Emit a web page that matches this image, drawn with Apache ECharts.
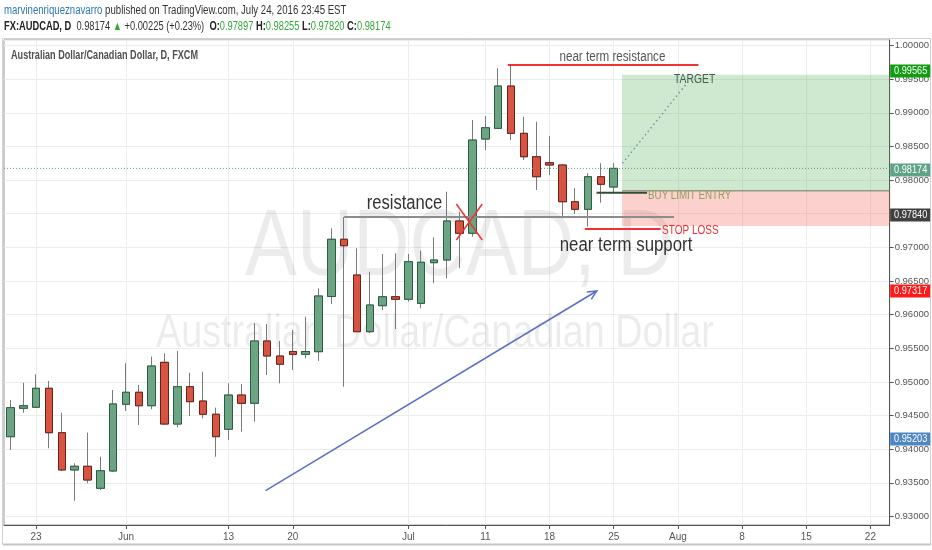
<!DOCTYPE html>
<html><head><meta charset="utf-8">
<script src="https://cdn.jsdelivr.net/npm/echarts@6/dist/echarts.min.js"></script>
<style>html,body{margin:0;padding:0;background:#fff}#c{width:932px;height:550px}</style>
</head><body><div id="c"></div><script>
// ---------- data ----------
const dates = ['2016-05-19','2016-05-20','2016-05-23','2016-05-24','2016-05-25','2016-05-26','2016-05-27','2016-05-30','2016-05-31',
'2016-06-01','2016-06-02','2016-06-03','2016-06-06','2016-06-07','2016-06-08','2016-06-09','2016-06-10','2016-06-13','2016-06-14','2016-06-15','2016-06-16','2016-06-17','2016-06-20','2016-06-21','2016-06-22','2016-06-23','2016-06-24','2016-06-27','2016-06-28','2016-06-29','2016-06-30',
'2016-07-01','2016-07-04','2016-07-05','2016-07-06','2016-07-07','2016-07-08','2016-07-11','2016-07-12','2016-07-13','2016-07-14','2016-07-15','2016-07-18','2016-07-19','2016-07-20','2016-07-21','2016-07-22','2016-07-25',
'2016-07-26','2016-07-27','2016-07-28','2016-07-29','2016-08-01','2016-08-02','2016-08-03','2016-08-04','2016-08-05','2016-08-08','2016-08-09','2016-08-10','2016-08-11','2016-08-12','2016-08-15','2016-08-16','2016-08-17','2016-08-18','2016-08-19','2016-08-22','2016-08-23'];
const tickLabels = {'2016-05-23':'23','2016-06-01':'Jun','2016-06-13':'13','2016-06-20':'20','2016-07-01':'Jul','2016-07-11':'11','2016-07-18':'18','2016-07-25':'25','2016-08-01':'Aug','2016-08-08':'8','2016-08-15':'15','2016-08-22':'22'};
const open = [0.94186,0.94608,0.94623,0.94905,0.94245,0.93691,0.93746,0.93419,0.93676,0.94667,0.94846,0.94646,0.95291,0.94374,0.94929,0.94716,0.94519,0.94296,0.94805,0.94682,0.95608,0.95385,0.95452,0.95410,0.95449,0.96269,0.97120,0.96589,0.95746,0.96133,0.96266,0.96228,0.96168,0.96772,0.96812,0.97392,0.97209,0.98610,0.98769,0.99398,0.98695,0.98347,0.98258,0.98224,0.97678,0.97565,0.98050,0.97897];
const close = [0.94617,0.94646,0.94905,0.94245,0.93691,0.93746,0.93542,0.93680,0.94672,0.94846,0.94646,0.95236,0.94374,0.94929,0.94706,0.94519,0.94186,0.94805,0.94682,0.95608,0.95385,0.95262,0.95410,0.95452,0.96277,0.97120,0.97024,0.95746,0.96143,0.96266,0.96228,0.96787,0.96778,0.96812,0.97392,0.97209,0.98595,0.98778,0.99398,0.98695,0.98347,0.98050,0.98224,0.97678,0.97565,0.98050,0.97937,0.98174];
const low = [0.93988,0.94542,0.94612,0.94013,0.93676,0.93234,0.93493,0.93393,0.93661,0.94568,0.94360,0.94593,0.94360,0.94325,0.94493,0.94459,0.93888,0.94137,0.94260,0.94409,0.95103,0.94979,0.95177,0.95351,0.95311,0.96158,0.94929,0.95742,0.95727,0.96069,0.95786,0.96192,0.96094,0.96466,0.96540,0.96689,0.97158,0.98447,0.98759,0.98595,0.98298,0.97852,0.98075,0.97432,0.97496,0.97307,0.97664,0.97820];
const high = [0.94731,0.94988,0.95113,0.95013,0.94542,0.93790,0.94245,0.93888,0.94880,0.95277,0.94954,0.95375,0.95425,0.95459,0.95137,0.95152,0.94617,0.94979,0.94969,0.95871,0.95861,0.95608,0.95772,0.95969,0.96391,0.97283,0.97451,0.96986,0.96638,0.96901,0.96911,0.96901,0.96950,0.97149,0.97827,0.97530,0.98893,0.98952,0.99661,0.99710,0.98942,0.98867,0.98655,0.98239,0.97878,0.98101,0.98249,0.98255];

// drawings (x = bar index, y = price)
const segNames = ['lastPrice','nearRes','resLine','crossA','crossB','stopLoss','buyLimit','entryEdge','targetPath','trendArrow'];
const segFrom = [[-0.5,0.98174],[38.75,0.99710],[26,0.97451],[34.74,0.97644],[36.76,0.97644],[44.75,0.97273],[45.66,0.97812],[47.65,0.97840],[47.68,0.98249],[19.88,0.93383]];
const segTo   = [[68.5,0.98174],[53.6,0.99710],[51.7,0.97451],[36.76,0.97109],[34.74,0.97109],[50.66,0.97273],[49.6,0.97812],[68.5,0.97840],[52.6,0.99413],[45.68,0.96351]];
const zoneNames = ['target','stop'];
const zoneFrom = [[47.65,0.99565],[47.65,0.97840]];
const zoneTo   = [[68.5,0.97840],[68.5,0.97317]];
const noteTexts = ['near term resistance','resistance','near term support','STOP LOSS','BUY LIMIT ENTRY','TARGET'];
const notePos = [[46.9,0.99829],[30.7,0.97659],[47.96,0.97035],[50.77,0.97243],[49.68,0.97763],[51.7,0.99487]];
const tagTexts = ['0.99565','0.98174','0.97840','0.97317','0.95203'];
const tagLevels = [0.99614,0.98157,0.97481,0.96351,0.94156];
const headerUser = 'marvinenriqueznavarro';
const headerRest = 'published on TradingView.com, July 24, 2016 23:45 EST';
const paneTitle = 'Australian Dollar/Canadian Dollar, D, FXCM';
const watermark1 = 'AUDCAD, D';
const watermark2 = 'Australian Dollar/Canadian Dollar';

// ---------- styles ----------
const SANS = "'Liberation Sans',Arial,sans-serif";
const segStyles = {
  lastPrice:{color:'#5a9a85',width:1,dash:[1,2]},
  nearRes:{color:'#f03232',width:2},
  resLine:{color:'#8c8c8c',width:2},
  crossA:{color:'#f03232',width:1.5},
  crossB:{color:'#f03232',width:1.5},
  stopLoss:{color:'#f03232',width:2},
  buyLimit:{color:'#2f4f2f',width:2},
  entryEdge:{color:'#6c7a6c',width:1},
  targetPath:{color:'#6a93b5',width:1.5,dash:[1.5,3]},
  trendArrow:{color:'#5d6fc2',width:1.5,arrow:true}
};
const zoneStyles = {target:'rgba(76,175,80,0.27)', stop:'rgba(244,67,54,0.25)'};
const noteStyles = [
  {fill:'#555',size:14,align:'center',sx:0.83},
  {fill:'#333',size:20,align:'center',sx:0.83},
  {fill:'#333',size:20,align:'center',sx:0.84},
  {fill:'#ee2c2c',size:12.5,align:'left',sx:0.8},
  {fill:'#8ea25e',size:12.5,align:'left',sx:0.78},
  {fill:'#44604f',size:12.5,align:'left',sx:0.83}
];
const tagColors = ['#119c11','#5fa386','#404040','#ff1a1a','#4f87c4'];

const chart = echarts.init(document.getElementById('c'), null, {renderer:'canvas'});
const isTick = (i, v) => Object.prototype.hasOwnProperty.call(tickLabels, v);

const option = {
  animation:false,
  backgroundColor:'#fff',
  textStyle:{fontFamily:SANS},
  grid:{left:4,right:41,top:40,bottom:25,show:true,borderColor:'#999',borderWidth:1,backgroundColor:'transparent'},
  xAxis:[{
    type:'category', data:dates, boundaryGap:true,
    axisLine:{onZero:false, lineStyle:{color:'#555'}},
    axisTick:{show:true, alignWithLabel:true, interval:isTick, length:4, lineStyle:{color:'#555'}},
    axisLabel:{interval:isTick, formatter:v=>tickLabels[v]||'', color:'#555', fontSize:10, fontFamily:SANS, margin:7},
    splitLine:{show:true, alignWithLabel:true, interval:isTick, lineStyle:{color:'#ececec'}}
  },{
    type:'value', min:-0.5, max:68.5, show:false
  }],
  yAxis:[{
    type:'value', position:'right', min:0.92873, max:1.00082, scale:true,
    splitNumber:14, minInterval:0.005, maxInterval:0.005,
    axisLine:{show:true, onZero:false, lineStyle:{color:'#555'}},
    axisTick:{show:true, length:4, lineStyle:{color:'#555'}},
    axisLabel:{margin:5, color:'#555', fontSize:9.5, fontFamily:SANS, showMinLabel:false, showMaxLabel:false, formatter:v=>v.toFixed(5)},
    splitLine:{show:true, lineStyle:{color:'#ececec'}}
  }],
  graphic:[
    {type:'text', x:245, y:249, scaleX:0.82, z:1, style:{text:watermark1, fill:'rgba(0,0,0,0.075)', fontSize:95, fontFamily:SANS, verticalAlign:'middle', textVerticalAlign:'middle'}},
    {type:'text', x:156, y:334, scaleX:0.82, z:1, style:{text:watermark2, fill:'rgba(0,0,0,0.075)', fontSize:46, fontFamily:SANS, verticalAlign:'middle', textVerticalAlign:'middle'}},
    {type:'rect', z:0, shape:{x:2.5,y:38.5,width:928,height:506}, style:{fill:null, stroke:'#d0d0d0', lineWidth:1}},
    {type:'line', z:0, shape:{x1:3,y1:544.5,x2:931,y2:544.5}, style:{stroke:'#c4c4c4', lineWidth:2}},
    {type:'text', x:4, y:11, scaleX:0.77, z:100, style:{
      text:'{u|'+headerUser+'} {t|'+headerRest+'}',
      fontSize:12.5, fontFamily:SANS, verticalAlign:'middle', textVerticalAlign:'middle',
      rich:{u:{fill:'#2b78b5',fontSize:12.5,fontFamily:SANS}, t:{fill:'#333',fontSize:12.5,fontFamily:SANS}}}},
    {type:'text', x:4, y:27, scaleX:0.745, z:100, style:{
      text:'{b|FX:AUDCAD, D}  {t|0.98174 }{g|▲}{t| +0.00225 (+0.23%)}  {b|O:}{g|0.97897} {b|H:}{g|0.98255} {b|L:}{g|0.97820} {b|C:}{g|0.98174}',
      fontSize:12.5, fontFamily:SANS, verticalAlign:'middle', textVerticalAlign:'middle',
      rich:{b:{fill:'#222',fontWeight:'bold',fontSize:12.5,fontFamily:SANS}, t:{fill:'#333',fontSize:12.5,fontFamily:SANS}, g:{fill:'#35a83a',fontSize:12.5,fontFamily:SANS}}}},
    {type:'text', x:11, y:56, scaleX:0.76, z:100, style:{text:paneTitle, fill:'#505050', fontSize:12, fontWeight:'bold', fontFamily:SANS, verticalAlign:'middle', textVerticalAlign:'middle'}}
  ],
  series:[
    {
      type:'custom', name:'zones', xAxisIndex:1, yAxisIndex:0, z:1,
      data: zoneFrom.map((f,i)=>[f[0],f[1],zoneTo[i][0],zoneTo[i][1]]),
      encode:{x:[0,2], y:[1,3]},
      renderItem:(params, api)=>{
        const p1 = api.coord([api.value(0), api.value(1)]);
        const p2 = api.coord([api.value(2), api.value(3)]);
        return {type:'rect', shape:{x:p1[0], y:p1[1], width:p2[0]-p1[0], height:p2[1]-p1[1]}, style:{fill:zoneStyles[zoneNames[params.dataIndex]]}};
      }
    },
    {
      type:'candlestick', name:'wicks', barWidth:8, z:3,
      data: open.map((o,i)=>[o, close[i], low[i], high[i]]),
      itemStyle:{color:'#6ba583', color0:'#d75442', borderColor:'#7a7a7a', borderColor0:'#7a7a7a', borderWidth:1}
    },
    {
      type:'candlestick', name:'bodies', barWidth:8, z:4,
      data: open.map((o,i)=>[o, close[i], Math.min(o, close[i]), Math.max(o, close[i])]),
      itemStyle:{color:'#6ba583', color0:'#d75442', borderColor:'#2b5e40', borderColor0:'#6a2218', borderWidth:1}
    },
    {
      type:'custom', name:'drawings', xAxisIndex:1, yAxisIndex:0, z:5,
      data: segFrom.map((f,i)=>[f[0],f[1],segTo[i][0],segTo[i][1]]),
      encode:{x:[0,2], y:[1,3]},
      renderItem:(params, api)=>{
        const p1 = api.coord([api.value(0), api.value(1)]);
        const p2 = api.coord([api.value(2), api.value(3)]);
        const st = segStyles[segNames[params.dataIndex]];
        const children = [{type:'line', shape:{x1:p1[0],y1:p1[1],x2:p2[0],y2:p2[1]}, style:{stroke:st.color, lineWidth:st.width, lineDash:st.dash||null}}];
        if (st.arrow) {
          const a = Math.atan2(p2[1]-p1[1], p2[0]-p1[0]), L = 10, w = 0.45;
          children.push({type:'polyline', shape:{points:[[p2[0]-L*Math.cos(a-w), p2[1]-L*Math.sin(a-w)], [p2[0],p2[1]], [p2[0]-L*Math.cos(a+w), p2[1]-L*Math.sin(a+w)]]}, style:{stroke:st.color, fill:null, lineWidth:st.width}});
        }
        return {type:'group', children};
      }
    },
    {
      type:'custom', name:'notes', xAxisIndex:1, yAxisIndex:0, z:6,
      data: notePos.map(p=>[p[0],p[1]]),
      encode:{x:0, y:1},
      renderItem:(params, api)=>{
        const p = api.coord([api.value(0), api.value(1)]);
        const s = noteStyles[params.dataIndex];
        return {type:'text', x:p[0], y:p[1], scaleX:s.sx, style:{text:noteTexts[params.dataIndex], fill:s.fill, fontSize:s.size, fontFamily:SANS, align:s.align, textAlign:s.align, verticalAlign:'middle', textVerticalAlign:'middle'}};
      }
    },
    {
      type:'custom', name:'priceTags', xAxisIndex:1, yAxisIndex:0, z:10,
      data: tagLevels.map(v=>[68.5, v]),
      encode:{x:0, y:1},
      renderItem:(params, api)=>{
        const p = api.coord([api.value(0), api.value(1)]);
        const i = params.dataIndex;
        return {type:'group', children:[
          {type:'rect', shape:{x:p[0]+0.5, y:Math.round(p[1])-6.5, width:40, height:13}, style:{fill:tagColors[i]}},
          {type:'text', x:p[0]+21, y:Math.round(p[1]), scaleX:0.8, style:{text:tagTexts[i], fill:'#fff', fontSize:11.5, fontFamily:SANS, align:'center', textAlign:'center', verticalAlign:'middle', textVerticalAlign:'middle'}}
        ]};
      }
    }
  ]
};
chart.setOption(option);
</script></body></html>
